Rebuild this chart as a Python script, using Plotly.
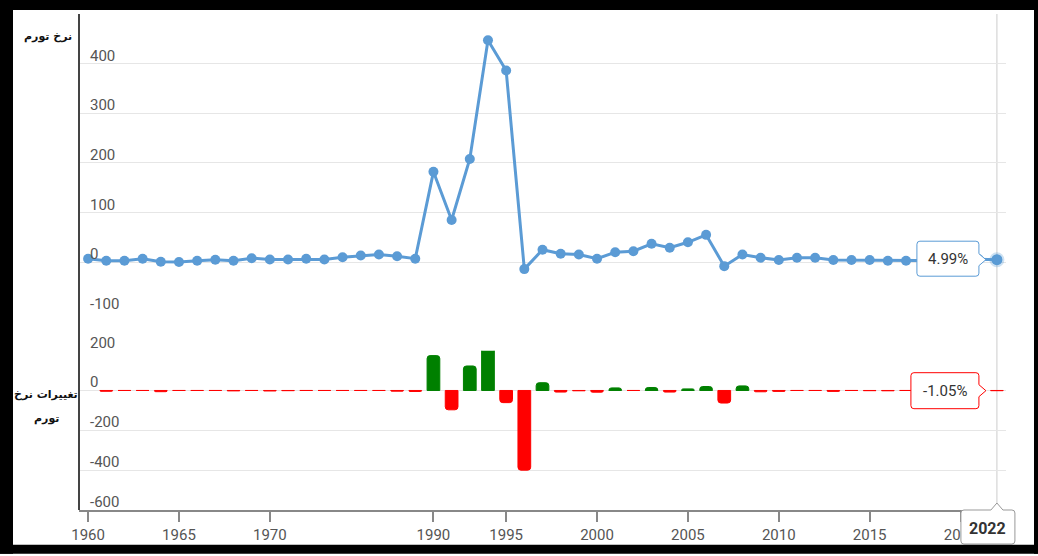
import plotly.graph_objects as go

# ---------------- data ----------------
years = ['1960', '1961', '1962', '1963', '1964', '1965', '1966', '1967', '1968', '1969', '1970',
         '1971', '1972', '1973', '1974', '1986', '1987', '1988', '1989',
         '1990', '1991', '1992', '1993',
         '1995', '1996', '1997', '1998', '1999', '2000', '2001', '2002', '2003', '2004',
         '2005', '2006', '2007', '2008', '2009', '2010', '2011', '2012', '2013', '2014',
         '2015', '2016', '2017', '2018', '2019', '2020', '2021', '2022']

inflation = [7, 3, 3, 7, 1, 0.5, 3, 5, 3, 8, 5.5,
             5.5, 7, 5.5, 10, 13.5, 15.5, 12, 7,
             182, 85, 208, 447,
             386, -14, 25, 17, 15.5, 7, 20, 22, 37, 29,
             40, 55, -8, 15.5, 9, 4.5, 9, 9, 4.5, 4.5,
             4.5, 3, 3, 3, 3, 3, 6.04, 4.99]

change = [None, -4, 0, 0, -6, 0, 0, 0, -2, 0, -2.5,
          -1, 0, 0, 0, 0, 0, -3.5, -5,
          175, -97, 123, 239,
          -61, -400, 39, -8, -1.5, -8.5, 13, 0, 15, -8,
          8, 20, -63, 23, -6.5, -4.5, 0, 0, -4.5, 0,
          -1, -1.5, 0, 0, 0, 0, 3, -1.05]

tick_years = ['1960', '1965', '1970', '1990', '1995', '2000', '2005', '2010', '2015', '2020']
top_ticks = [-100, 0, 100, 200, 300, 400, 500]
top_labels = ['-100', '0', '100', '200', '300', '400', '']
bottom_ticks = [-600, -400, -200, 0, 200]
bottom_labels = ['-600', '-400', '-200', '0', '200']

title_top = 'نرخ تورم'
title_bottom_1 = 'تغییرات نرخ'
title_bottom_2 = 'تورم'

# ---------------- styling ----------------
W, H = 1038, 556
ML, MR, MT, MB = 79, 32, 14, 44
PW, PH = W - ML - MR, H - MT - MB
LINE_COLOR = '#5b9bd5'
GREEN = '#008000'
RED = '#ff0000'
TICK_FONT = dict(family='Roboto', size=15, color='#555555')


def px2x(px):
    return (px - ML) / PW


def py2y(py):
    return (H - MB - py) / PH


fig = go.Figure()

bar_colors = [GREEN if (v is not None and v > 0) else RED for v in change]
fig.add_trace(go.Bar(
    x=years, y=change, xaxis='x', yaxis='y2',
    marker=dict(color=bar_colors, line=dict(color=bar_colors, width=1), cornerradius=3),
    width=0.7,
))

fig.add_trace(go.Scatter(
    x=years, y=inflation, xaxis='x', yaxis='y', mode='lines+markers',
    line=dict(color=LINE_COLOR, width=3),
    marker=dict(color=LINE_COLOR, size=10),
))

# highlighted (hovered) point
fig.add_trace(go.Scatter(
    x=[years[-1]], y=[inflation[-1]], xaxis='x', yaxis='y', mode='markers',
    marker=dict(color=LINE_COLOR, size=11, line=dict(color='rgba(91,155,213,0.3)', width=4)),
))

last = len(years) - 1
x_last_paper = (last + 0.5) / len(years)

shapes = []
# crosshair
shapes.append(dict(type='line', xref='x', yref='paper', x0=last, x1=last, y0=0, y1=1,
                   line=dict(color='#cccccc', width=1), layer='below'))
# left axis line spanning both panes
shapes.append(dict(type='line', xref='paper', yref='paper', x0=0, x1=0, y0=0, y1=1,
                   line=dict(color='#444444', width=2), layer='above'))


def callout_right(left, right, top, bottom, tip, r=3, half=6):
    return (f"M {left + r},{top} L {right - r},{top} Q {right},{top} {right},{top - r} "
            f"L {right},{half} L {tip},0 L {right},{-half} L {right},{bottom + r} "
            f"Q {right},{bottom} {right - r},{bottom} L {left + r},{bottom} "
            f"Q {left},{bottom} {left},{bottom + r} L {left},{top - r} Q {left},{top} {left + r},{top} Z")


def callout_up(left, right, top, bottom, tip, r=3, half=6):
    return (f"M {left + r},{top} L {-half},{top} L 0,{tip} L {half},{top} L {right - r},{top} "
            f"Q {right},{top} {right},{top - r} L {right},{bottom + r} "
            f"Q {right},{bottom} {right - r},{bottom} L {left + r},{bottom} "
            f"Q {left},{bottom} {left},{bottom + r} L {left},{top - r} Q {left},{top} {left + r},{top} Z")


shapes.append(dict(type='path', xref='x', yref='y', xsizemode='pixel', ysizemode='pixel',
                   xanchor=last, yanchor=inflation[-1],
                   path=callout_right(-80, -18, 18.5, -16.5, -11),
                   fillcolor='white', line=dict(color=LINE_COLOR, width=1), layer='above'))
shapes.append(dict(type='path', xref='x', yref='y2', xsizemode='pixel', ysizemode='pixel',
                   xanchor=last, yanchor=change[-1],
                   path=callout_right(-86, -18, 18, -18, -11),
                   fillcolor='white', line=dict(color=RED, width=1), layer='above'))
shapes.append(dict(type='path', xref='paper', yref='paper', xsizemode='pixel', ysizemode='pixel',
                   xanchor=x_last_paper, yanchor=0,
                   path=callout_up(-36, 18, 0, -34, 7),
                   fillcolor='white', line=dict(color='#999999', width=1), layer='above'))

# black frame
for (x0, x1, y0, y1) in [(0, 13, 0, H), (0, W, 0, 10), (1034, W, 0, H), (0, W, 547, H)]:
    shapes.append(dict(type='rect', xref='paper', yref='paper',
                       x0=px2x(x0), x1=px2x(x1), y0=py2y(y1), y1=py2y(y0),
                       fillcolor='black', line=dict(width=0), layer='above'))

annotations = []
# y-axis labels (Highcharts style: inside, sitting on the grid line)
for v, t in zip(top_ticks, top_labels):
    if t:
        annotations.append(dict(xref='paper', yref='y', x=0, y=v, text=t, showarrow=False,
                                xanchor='left', yanchor='bottom', xshift=9, yshift=-3,
                                font=TICK_FONT))
for v, t in zip(bottom_ticks, bottom_labels):
    annotations.append(dict(xref='paper', yref='y2', x=0, y=v, text=t, showarrow=False,
                            xanchor='left', yanchor='bottom', xshift=9, yshift=-3,
                            font=TICK_FONT))

annotations += [
    dict(xref='x', yref='y', x=last, y=inflation[-1], text=f'{inflation[-1]:.2f}%',
         showarrow=False, xanchor='center', yanchor='middle', xshift=-49, yshift=1,
         font=dict(family='Roboto', size=15, color='#333333')),
    dict(xref='x', yref='y2', x=last, y=change[-1], text=f'{change[-1]:.2f}%',
         showarrow=False, xanchor='center', yanchor='middle', xshift=-52, yshift=0,
         font=dict(family='Roboto', size=15, color='#333333')),
    dict(xref='paper', yref='paper', x=x_last_paper, y=0, text=f'<b>{years[-1]}</b>',
         showarrow=False, xanchor='center', yanchor='middle', xshift=-9, yshift=-18,
         font=dict(family='Roboto', size=16, color='#333333')),
    dict(xref='paper', yref='paper', x=px2x(74), y=py2y(37), text=f'<b>{title_top}</b>',
         showarrow=False, xanchor='right', yanchor='middle',
         font=dict(family='DejaVu Sans', size=11, color='#111111')),
    dict(xref='paper', yref='paper', x=px2x(46), y=py2y(396), text=f'<b>{title_bottom_1}</b>',
         showarrow=False, xanchor='center', yanchor='middle',
         font=dict(family='DejaVu Sans', size=11, color='#111111')),
    dict(xref='paper', yref='paper', x=px2x(46), y=py2y(420), text=f'<b>{title_bottom_2}</b>',
         showarrow=False, xanchor='center', yanchor='middle',
         font=dict(family='DejaVu Sans', size=11, color='#111111')),
]

fig.update_layout(
    width=W, height=H,
    margin=dict(l=ML, r=MR, t=MT, b=MB, pad=0),
    paper_bgcolor='white', plot_bgcolor='white',
    showlegend=False, hovermode=False, bargap=0.3,
    xaxis=dict(type='category', range=[-0.5, len(years) - 0.5], anchor='y2',
               tickmode='array', tickvals=tick_years, ticktext=tick_years,
               showgrid=False, showline=True, linecolor='#888888', linewidth=1.5,
               ticks='outside', ticklen=10, tickcolor='#888888', tickwidth=1.5,
               ticklabeloverflow='allow', tickfont=TICK_FONT),
    yaxis=dict(domain=[py2y(313), 1], range=[-100, 500], anchor='x',
               tickmode='array', tickvals=top_ticks, showticklabels=False,
               showgrid=True, gridcolor='#e6e6e6', gridwidth=1, zeroline=False,
               showline=False),
    yaxis2=dict(domain=[0, py2y(352)], range=[-600, 200], anchor='x',
                tickmode='array', tickvals=bottom_ticks, showticklabels=False,
                showgrid=True, gridcolor='#e6e6e6', gridwidth=1, zeroline=False,
                showline=False),
    shapes=shapes,
    annotations=annotations,
)

fig.write_html('out.html', config={'displayModeBar': False},
               post_script="document.body.style.margin='0';document.body.style.overflow='hidden';")
